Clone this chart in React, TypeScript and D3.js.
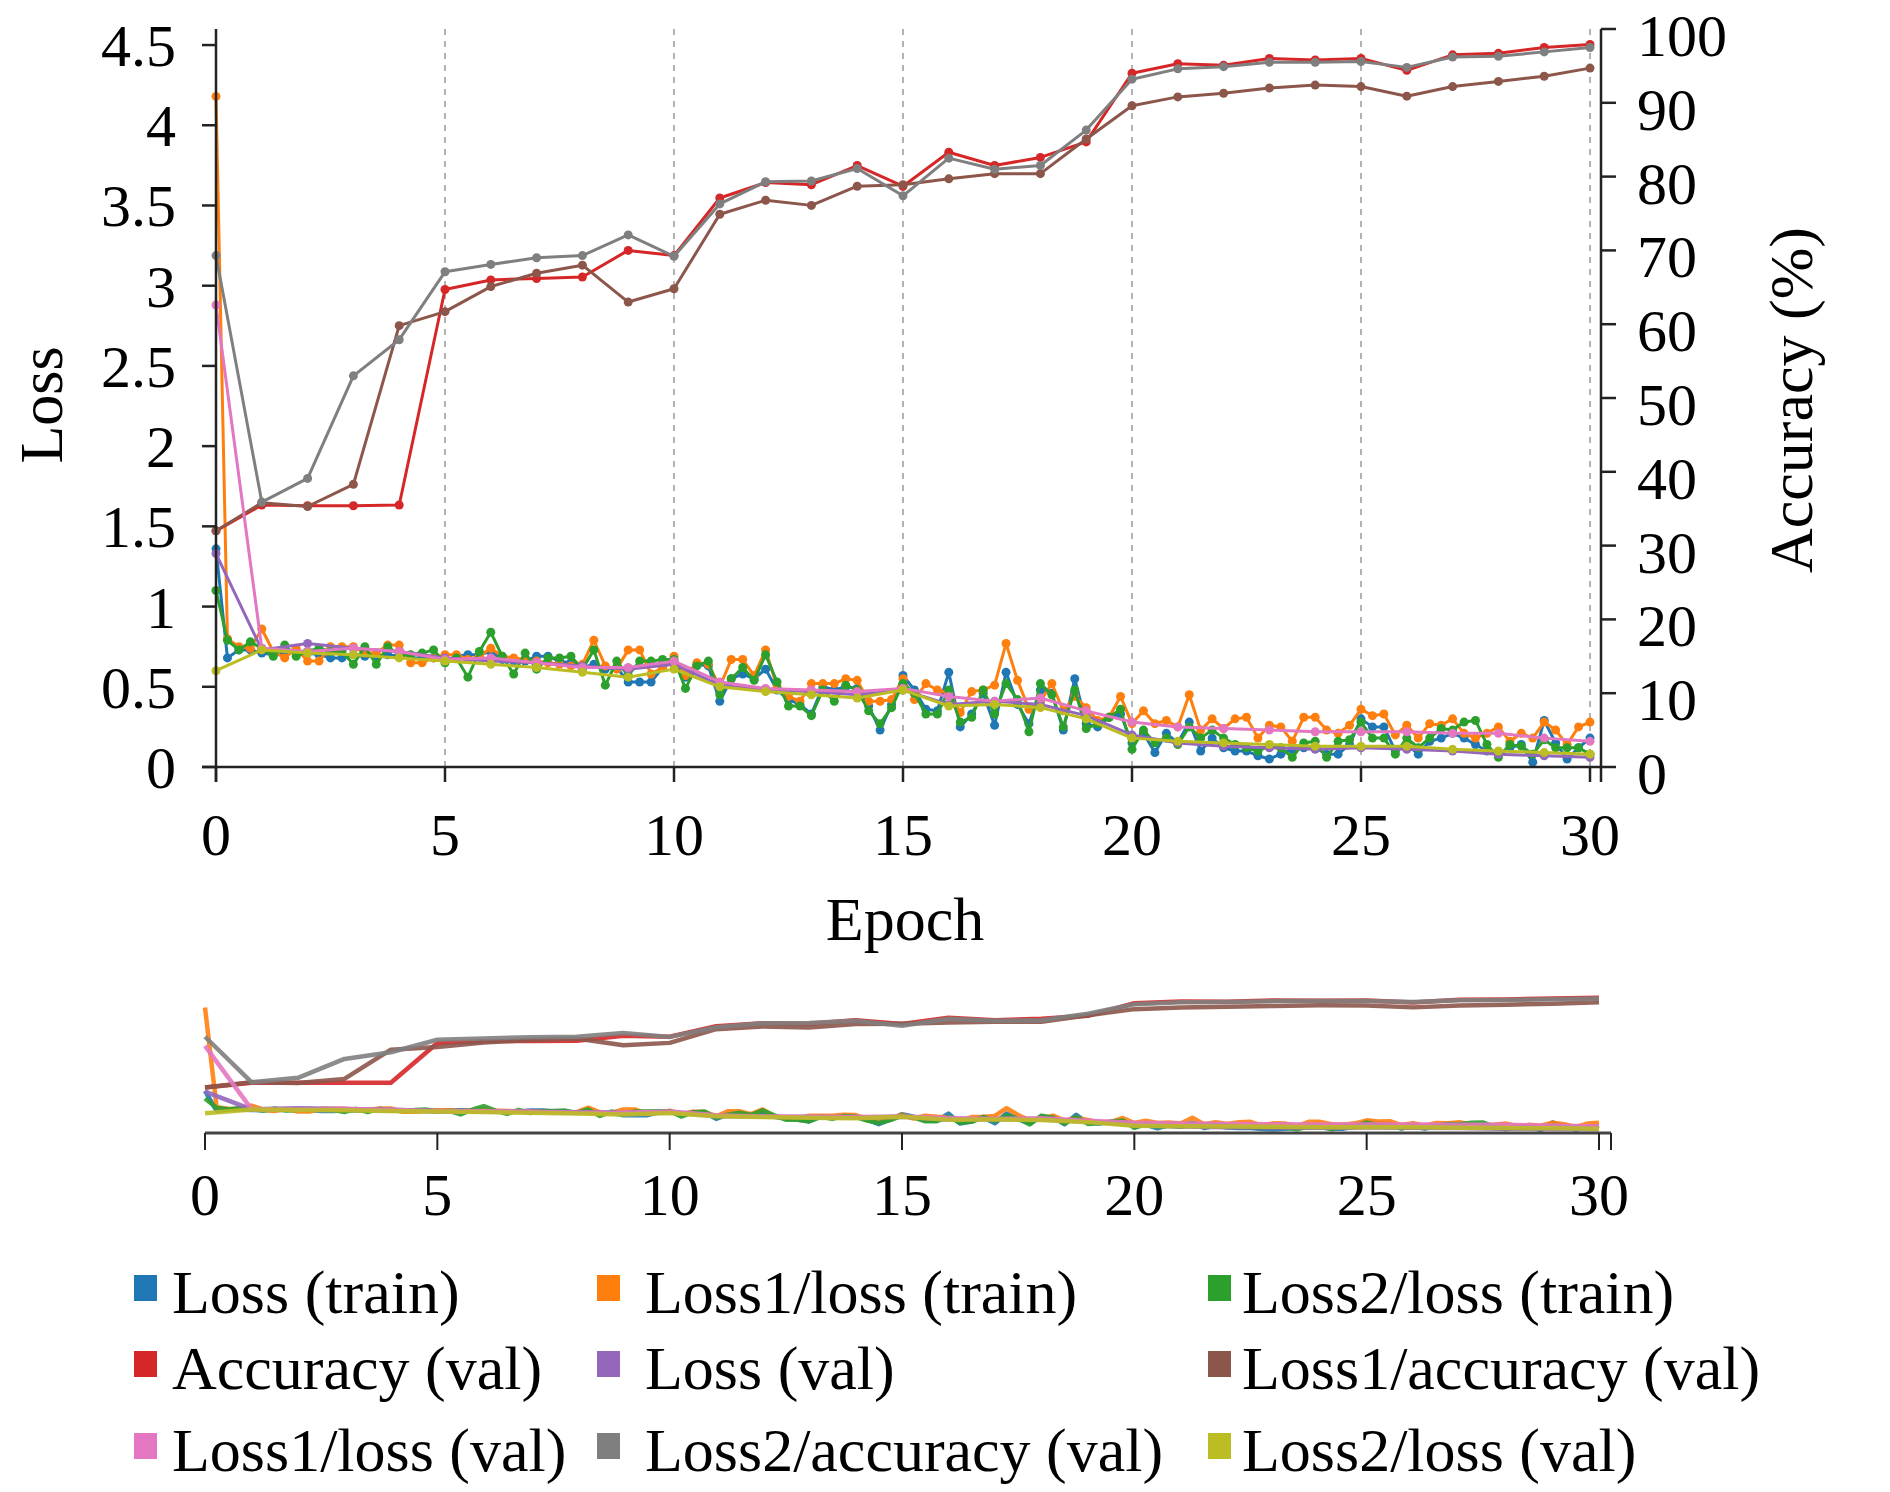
import React from 'react';
import * as d3 from 'd3';

// ---------- data ----------
const valEpochs = d3.range(0, 31);
const trainEpochs = d3.range(0, 121).map((i) => i / 4);

const accuracyVal = [32.0, 35.5, 35.4, 35.4, 35.5, 64.7, 66.0, 66.2, 66.4, 70.0, 69.3, 77.1, 79.2, 78.9, 81.5, 78.7, 83.3, 81.5, 82.6, 84.7, 94.0, 95.3, 95.1, 96.0, 95.8, 96.0, 94.4, 96.5, 96.7, 97.5, 97.9];
const loss1AccuracyVal = [32.0, 35.8, 35.3, 38.3, 59.8, 61.7, 65.1, 66.9, 68.0, 63.0, 64.8, 74.9, 76.8, 76.1, 78.7, 78.9, 79.7, 80.4, 80.4, 85.1, 89.6, 90.8, 91.3, 92.0, 92.4, 92.2, 90.9, 92.2, 92.9, 93.6, 94.7];
const loss2AccuracyVal = [69.3, 35.9, 39.1, 53.0, 57.9, 67.1, 68.1, 69.0, 69.3, 72.1, 69.2, 76.3, 79.3, 79.4, 81.1, 77.4, 82.5, 81.0, 81.5, 86.3, 93.2, 94.6, 94.9, 95.5, 95.5, 95.6, 94.8, 96.2, 96.3, 96.9, 97.5];

const lossVal = [1.33, 0.73, 0.77, 0.74, 0.72, 0.68, 0.66, 0.65, 0.63, 0.61, 0.64, 0.51, 0.48, 0.47, 0.45, 0.48, 0.39, 0.41, 0.39, 0.32, 0.20, 0.15, 0.13, 0.12, 0.11, 0.12, 0.11, 0.10, 0.08, 0.07, 0.06];
const loss1LossVal = [2.88, 0.74, 0.72, 0.74, 0.72, 0.67, 0.68, 0.65, 0.62, 0.62, 0.66, 0.53, 0.49, 0.48, 0.47, 0.49, 0.44, 0.41, 0.43, 0.35, 0.28, 0.25, 0.24, 0.23, 0.22, 0.22, 0.22, 0.21, 0.21, 0.18, 0.16];
const loss2LossVal = [0.60, 0.73, 0.71, 0.70, 0.68, 0.66, 0.64, 0.62, 0.59, 0.56, 0.61, 0.50, 0.47, 0.45, 0.43, 0.48, 0.38, 0.39, 0.37, 0.30, 0.18, 0.16, 0.15, 0.14, 0.13, 0.13, 0.13, 0.11, 0.10, 0.09, 0.08];

const lossTrain = [
  1.36, 0.68, 0.73, 0.73, 0.71, 0.70, 0.71, 0.72, 0.71, 0.70, 0.68, 0.68, 0.70, 0.69, 0.69, 0.70,
  0.69, 0.68, 0.68, 0.68, 0.66, 0.69, 0.70, 0.70, 0.72, 0.67, 0.66, 0.66, 0.69, 0.69, 0.66, 0.65,
  0.62, 0.64, 0.61, 0.62, 0.53, 0.53, 0.53, 0.62, 0.66, 0.56, 0.64, 0.63, 0.41, 0.55, 0.58, 0.55,
  0.61, 0.48, 0.42, 0.39, 0.33, 0.50, 0.48, 0.50, 0.49, 0.38, 0.23, 0.39, 0.57, 0.48, 0.36, 0.35,
  0.59, 0.25, 0.33, 0.46, 0.26, 0.59, 0.39, 0.27, 0.48, 0.46, 0.23, 0.55, 0.27, 0.25, 0.31, 0.33,
  0.15, 0.21, 0.09, 0.21, 0.15, 0.28, 0.10, 0.18, 0.12, 0.10, 0.10, 0.07, 0.05, 0.08, 0.11, 0.12,
  0.12, 0.08, 0.08, 0.14, 0.30, 0.25, 0.25, 0.10, 0.14, 0.08, 0.16, 0.18, 0.21, 0.18, 0.14, 0.10,
  0.08, 0.12, 0.14, 0.03, 0.29, 0.15, 0.05, 0.12, 0.18,
];
const loss1LossTrain = [
  4.18, 0.80, 0.75, 0.74, 0.86, 0.72, 0.68, 0.74, 0.66, 0.66, 0.75, 0.75, 0.75, 0.71, 0.71, 0.76,
  0.76, 0.65, 0.65, 0.68, 0.70, 0.70, 0.67, 0.69, 0.74, 0.69, 0.68, 0.67, 0.66, 0.65, 0.64, 0.63,
  0.64, 0.79, 0.63, 0.61, 0.73, 0.73, 0.58, 0.62, 0.69, 0.57, 0.65, 0.64, 0.50, 0.67, 0.67, 0.57,
  0.73, 0.50, 0.44, 0.41, 0.52, 0.52, 0.52, 0.55, 0.54, 0.41, 0.41, 0.42, 0.55, 0.42, 0.52, 0.48,
  0.46, 0.34, 0.47, 0.48, 0.51, 0.77, 0.54, 0.36, 0.41, 0.52, 0.35, 0.44, 0.37, 0.29, 0.31, 0.44,
  0.27, 0.35, 0.27, 0.29, 0.25, 0.45, 0.23, 0.30, 0.24, 0.30, 0.31, 0.18, 0.26, 0.25, 0.16, 0.31,
  0.31, 0.23, 0.21, 0.26, 0.36, 0.32, 0.33, 0.20, 0.26, 0.18, 0.27, 0.26, 0.30, 0.21, 0.18, 0.21,
  0.25, 0.16, 0.21, 0.18, 0.28, 0.23, 0.14, 0.25, 0.28,
];
const loss2LossTrain = [
  1.10, 0.79, 0.73, 0.78, 0.74, 0.69, 0.76, 0.69, 0.72, 0.74, 0.72, 0.72, 0.64, 0.75, 0.64, 0.75,
  0.70, 0.70, 0.71, 0.73, 0.65, 0.68, 0.56, 0.72, 0.84, 0.69, 0.58, 0.71, 0.61, 0.68, 0.68, 0.69,
  0.61, 0.73, 0.51, 0.66, 0.57, 0.66, 0.66, 0.67, 0.67, 0.49, 0.63, 0.66, 0.45, 0.55, 0.62, 0.54,
  0.70, 0.53, 0.38, 0.38, 0.32, 0.48, 0.41, 0.51, 0.48, 0.35, 0.27, 0.37, 0.52, 0.46, 0.33, 0.33,
  0.48, 0.28, 0.31, 0.48, 0.33, 0.52, 0.42, 0.22, 0.52, 0.45, 0.25, 0.48, 0.24, 0.27, 0.31, 0.36,
  0.11, 0.23, 0.15, 0.18, 0.14, 0.25, 0.18, 0.23, 0.18, 0.14, 0.12, 0.10, 0.13, 0.12, 0.06, 0.15,
  0.16, 0.06, 0.16, 0.17, 0.28, 0.18, 0.18, 0.08, 0.18, 0.12, 0.18, 0.24, 0.23, 0.28, 0.29, 0.14,
  0.06, 0.14, 0.13, 0.08, 0.17, 0.12, 0.12, 0.12, 0.08,
];

const leftTicks = [0, 0.5, 1, 1.5, 2, 2.5, 3, 3.5, 4, 4.5];
const rightTicks = [0, 10, 20, 30, 40, 50, 60, 70, 80, 90, 100];
const xTicks = [0, 5, 10, 15, 20, 25, 30];

type Series = { name: string; color: string; xs: number[]; ys: number[]; axis: 'loss' | 'acc' };

const series: Series[] = [
  { name: 'Loss (train)', color: '#1f77b4', xs: trainEpochs, ys: lossTrain, axis: 'loss' },
  { name: 'Loss1/loss (train)', color: '#ff7f0e', xs: trainEpochs, ys: loss1LossTrain, axis: 'loss' },
  { name: 'Loss2/loss (train)', color: '#2ca02c', xs: trainEpochs, ys: loss2LossTrain, axis: 'loss' },
  { name: 'Accuracy (val)', color: '#d62728', xs: valEpochs, ys: accuracyVal, axis: 'acc' },
  { name: 'Loss (val)', color: '#9467bd', xs: valEpochs, ys: lossVal, axis: 'loss' },
  { name: 'Loss1/accuracy (val)', color: '#8c564b', xs: valEpochs, ys: loss1AccuracyVal, axis: 'acc' },
  { name: 'Loss1/loss (val)', color: '#e377c2', xs: valEpochs, ys: loss1LossVal, axis: 'loss' },
  { name: 'Loss2/accuracy (val)', color: '#7f7f7f', xs: valEpochs, ys: loss2AccuracyVal, axis: 'acc' },
  { name: 'Loss2/loss (val)', color: '#bcbd22', xs: valEpochs, ys: loss2LossVal, axis: 'loss' },
];

const FONT = "'Liberation Serif', 'Times New Roman', serif";

export default function App() {
  const W = 1890;
  const H = 1492;

  // main chart scales
  const x = d3.scaleLinear().domain([0, 30]).range([216, 1590]);
  const yL = d3.scaleLinear().domain([0, 4.6]).range([767, 29]);
  const yR = d3.scaleLinear().domain([0, 100]).range([767, 29]);
  const plotTop = 29;
  const plotBottom = 767;
  const rightAxisX = 1601;

  // mini chart scales
  const xm = d3.scaleLinear().domain([0, 30]).range([205, 1599]);
  const ymL = d3.scaleLinear().domain([0, 4.6]).range([1131, 995]);
  const ymR = d3.scaleLinear().domain([0, 100]).range([1131, 995]);
  const miniAxisY = 1133;

  const mainLine = (s: Series) =>
    d3
      .line<number>()
      .x((_, i) => x(s.xs[i]))
      .y((v) => (s.axis === 'acc' ? yR(v) : yL(v)))(s.ys) || '';

  const miniLine = (s: Series) =>
    d3
      .line<number>()
      .x((_, i) => xm(s.xs[i]))
      .y((v) => (s.axis === 'acc' ? ymR(v) : ymL(v)))(s.ys) || '';

  const legendCols = [
    { sq: 134, tx: 172 },
    { sq: 597, tx: 645 },
    { sq: 1208, tx: 1242 },
  ];
  const legendRows = [1313, 1389, 1471];

  return (
    <svg
      width={W}
      height={H}
      viewBox={`0 0 ${W} ${H}`}
      style={{ position: 'absolute', left: 0, top: 0, background: '#fff' }}
      fontFamily={FONT}
    >
      <rect x={0} y={0} width={W} height={H} fill="#fff" />

      {/* dashed vertical grid lines */}
      {xTicks.slice(1).map((t) => (
        <line
          key={'g' + t}
          x1={x(t)}
          x2={x(t)}
          y1={plotTop}
          y2={plotBottom}
          stroke="#9a9a9a"
          strokeWidth={1.5}
          strokeDasharray="6,6"
        />
      ))}

      {/* series main */}
      {series.map((s) => (
        <g key={s.name}>
          <path d={mainLine(s)} fill="none" stroke={s.color} strokeWidth={3} strokeLinejoin="round" />
          {s.ys.map((v, i) => (
            <circle
              key={i}
              cx={x(s.xs[i])}
              cy={s.axis === 'acc' ? yR(v) : yL(v)}
              r={4.5}
              fill={s.color}
            />
          ))}
        </g>
      ))}

      {/* left axis */}
      <line x1={216} x2={216} y1={plotTop} y2={plotBottom + 15} stroke="#222" strokeWidth={2.5} />
      {leftTicks.map((t) => (
        <g key={'l' + t}>
          <line x1={202} x2={216} y1={yL(t)} y2={yL(t)} stroke="#222" strokeWidth={2.5} />
          <text x={176} y={yL(t)} dy="0.35em" textAnchor="end" fontSize={60} fill="#000">
            {String(t)}
          </text>
        </g>
      ))}
      <text
        transform={`translate(62, 405) rotate(-90)`}
        textAnchor="middle"
        fontSize={62}
        fill="#000"
      >
        Loss
      </text>

      {/* right axis */}
      <line x1={rightAxisX} x2={rightAxisX} y1={plotTop} y2={plotBottom + 15} stroke="#222" strokeWidth={2.5} />
      {rightTicks.map((t) => (
        <g key={'r' + t}>
          <line x1={rightAxisX} x2={rightAxisX + 15} y1={yR(t)} y2={yR(t)} stroke="#222" strokeWidth={2.5} />
          <text x={1637} y={yR(t)} dy="0.45em" textAnchor="start" fontSize={60} fill="#000">
            {String(t)}
          </text>
        </g>
      ))}
      <text
        transform={`translate(1812, 400) rotate(-90)`}
        textAnchor="middle"
        fontSize={62}
        fill="#000"
      >
        Accuracy (%)
      </text>

      {/* bottom axis */}
      <line x1={202} x2={rightAxisX} y1={plotBottom} y2={plotBottom} stroke="#222" strokeWidth={2.5} />
      {xTicks.map((t) => (
        <g key={'b' + t}>
          <line x1={x(t)} x2={x(t)} y1={plotBottom} y2={plotBottom + 15} stroke="#222" strokeWidth={2.5} />
          <text x={x(t)} y={855} textAnchor="middle" fontSize={60} fill="#000">
            {String(t)}
          </text>
        </g>
      ))}
      <text x={905} y={940} textAnchor="middle" fontSize={62} fill="#000">
        Epoch
      </text>

      {/* mini navigator chart */}
      {series.map((s) => (
        <path
          key={'m' + s.name}
          d={miniLine(s)}
          fill="none"
          stroke={s.color}
          strokeWidth={4.5}
          strokeLinejoin="round"
          opacity={0.9}
        />
      ))}
      <line x1={205} x2={1611} y1={miniAxisY} y2={miniAxisY} stroke="#444" strokeWidth={3} />
      {xTicks.map((t) => (
        <g key={'mb' + t}>
          <line x1={xm(t)} x2={xm(t)} y1={miniAxisY} y2={miniAxisY + 17} stroke="#222" strokeWidth={2} />
          <text x={xm(t)} y={1215} textAnchor="middle" fontSize={60} fill="#000">
            {String(t)}
          </text>
        </g>
      ))}
      <line x1={1611} x2={1611} y1={miniAxisY} y2={miniAxisY + 17} stroke="#222" strokeWidth={2} />

      {/* legend */}
      {series.map((s, i) => {
        const col = legendCols[i % 3];
        const row = legendRows[Math.floor(i / 3)];
        return (
          <g key={'lg' + s.name}>
            <rect x={col.sq} y={row - 38} width={23} height={26} fill={s.color} />
            <text x={col.tx} y={row} fontSize={62} fill="#000">
              {s.name}
            </text>
          </g>
        );
      })}
    </svg>
  );
}
